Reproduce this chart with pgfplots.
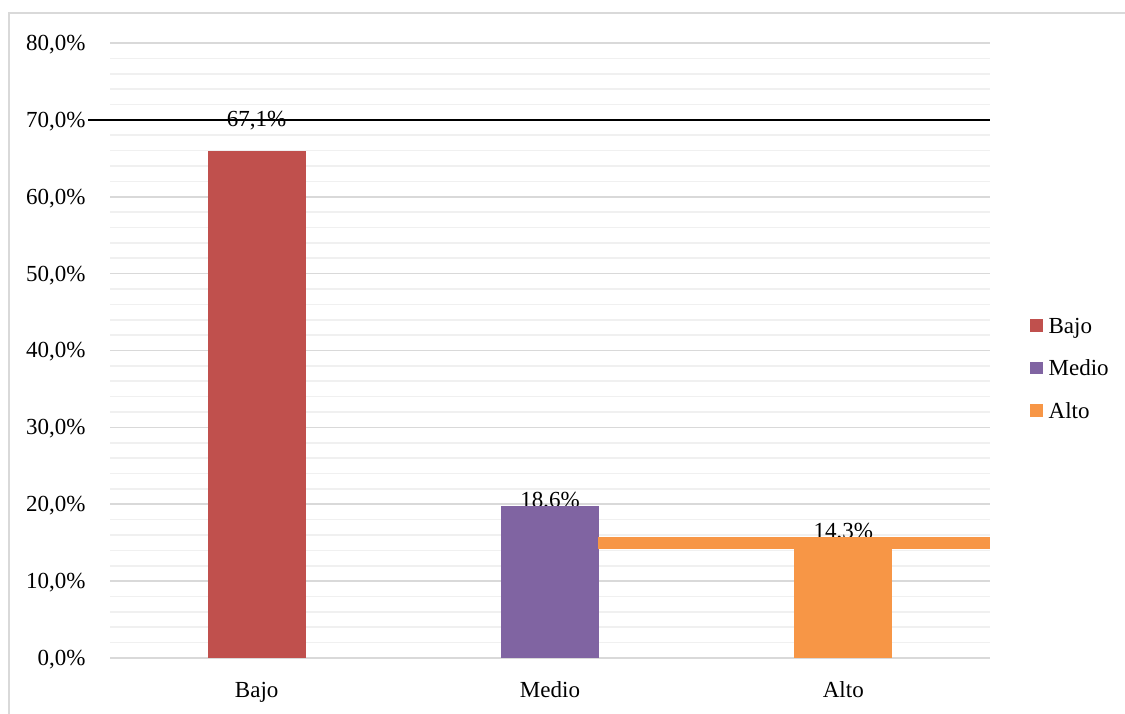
\documentclass[border=0pt]{standalone}
\usepackage{pgfplots}
\pgfplotsset{compat=1.18}
\usepackage{fontspec}
\setmainfont{Liberation Serif}
\definecolor{cBajo}{HTML}{C0504D}
\definecolor{cMedio}{HTML}{8064A2}
\definecolor{cAlto}{HTML}{F79646}
\definecolor{gmaj}{HTML}{D9D9D9}
\definecolor{gmin}{HTML}{F0F0F0}
\begin{document}
\begin{tikzpicture}
\fontsize{11.5}{13}\selectfont
\begin{axis}[
  at={(55pt,27.5pt)}, anchor=south west,
  scale only axis, width=440pt, height=307.5pt,
  xmin=-0.5, xmax=2.5, ymin=0, ymax=80,
  clip=false, clip marker paths=true,
  axis line style={draw=none},
  major tick length=0pt, minor tick length=0pt,
  xtick={0,1,2}, xticklabels={Bajo,Medio,Alto},
  ytick={0,10,...,80}, minor y tick num=4,
  ymajorgrids, yminorgrids,
  major grid style={gmaj, line width=0.8pt},
  minor grid style={gmin, line width=0.8pt},
  /pgf/number format/assume math mode=true,
  yticklabel={\pgfmathprintnumber[fixed,fixed zerofill,precision=1,use comma,assume math mode=true]{\tick}\%},
  yticklabel style={anchor=east, inner sep=0pt, xshift=-12pt, yshift=-0.8pt, font=\fontsize{11.5}{13}\selectfont},
  xticklabel style={anchor=base, inner sep=0pt, yshift=-19.5pt, font=\fontsize{11.5}{13}\selectfont},
  legend style={at={(1.0455,0.467)}, anchor=west, draw=none, fill=none,
    inner sep=0pt, outer sep=0pt,
    nodes={inner sep=0pt, text height=8pt, text depth=3pt, font=\fontsize{11.5}{13}\selectfont},
    column sep=3pt, row sep=10.2pt},
  legend cell align=left,
  legend image code/.code={\fill[#1] (0pt,-1.8pt) rectangle (6.3pt,4.6pt);},
]
% data labels (drawn first, partly covered by bars)
\addplot[draw=none, mark=none, forget plot, nodes near coords, point meta=explicit symbolic,
  every node near coord/.append style={anchor=base, inner sep=0pt, text=black, font=\fontsize{11.5}{13}\selectfont}]
  coordinates {(0,69.1)[67,1\%] (1,19.6)[18,6\%] (2,15.5)[14,3\%]};
\addplot[ybar, bar width=49pt, bar shift=0pt, fill=cBajo, draw=none] coordinates {(0,66.0)};
\addlegendentry{Bajo}
\addplot[ybar, bar width=49pt, bar shift=0pt, fill=cMedio, draw=none] coordinates {(1,19.8)};
\addlegendentry{Medio}
\addplot[ybar, bar width=49pt, bar shift=0pt, fill=cAlto, draw=none] coordinates {(2,14.2)};
\addlegendentry{Alto}
% orange band
\addplot[fill=cAlto, draw=none, forget plot] coordinates {(1.164,14.2) (2.5,14.2) (2.5,15.75) (1.164,15.75)} -- cycle;
% black line at 70%
\addplot[black, line width=1pt, mark=none, forget plot] coordinates {(-0.575,70) (2.5,70)};
\end{axis}
\draw[gmaj, line width=1pt] (4.5pt,-20pt) -- (4.5pt,350pt) -- (620pt,350pt);
\pgfresetboundingbox
\useasboundingbox (0pt,0pt) rectangle (562.5pt,356.5pt);
\end{tikzpicture}
\end{document}
